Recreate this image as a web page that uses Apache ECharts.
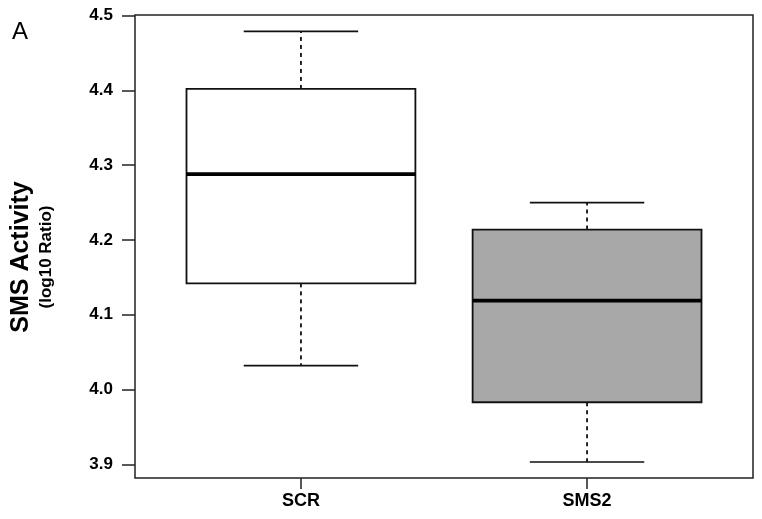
<!DOCTYPE html>
<html>
<head>
<meta charset="utf-8">
<script src="https://cdn.jsdelivr.net/npm/echarts@6/dist/echarts.min.js"></script>
<style>html,body{margin:0;padding:0;background:#fff}#c{width:762px;height:519px}</style>
</head>
<body>
<div id="c"></div>
<script>
var categories = ['SCR', 'SMS2'];
var whiskerLow = [4.032, 3.903];
var q1 = [4.142, 3.983];
var median = [4.288, 4.119];
var q3 = [4.402, 4.214];
var whiskerHigh = [4.479, 4.250];
var yTicks = [3.9, 4.0, 4.1, 4.2, 4.3, 4.4, 4.5];
var xTicks = [1, 2];

var boxFill = ['#ffffff', '#a8a8a8'];
var FONT = '"Liberation Sans", Arial, sans-serif';

var data = categories.map(function (c, i) {
  return [i + 1, whiskerLow[i], q1[i], median[i], q3[i], whiskerHigh[i]];
});

var chart = echarts.init(document.getElementById('c'), null, {renderer: 'canvas'});

function renderItem(params, api) {
  var x = api.value(0);
  var idx = params.dataIndex;
  var pLow = api.coord([x, api.value(1)]);
  var pQ1 = api.coord([x, api.value(2)]);
  var pMed = api.coord([x, api.value(3)]);
  var pQ3 = api.coord([x, api.value(4)]);
  var pHigh = api.coord([x, api.value(5)]);
  var bw = api.size([0.8, 0])[0];
  var cw = api.size([0.4, 0])[0];
  var cx = pMed[0];
  var lineStyle = {stroke: '#111', lineWidth: 1.6, fill: null};
  var dashStyle = {stroke: '#111', lineWidth: 1.8, lineDash: [4, 4], fill: null};
  return {
    type: 'group',
    children: [
      {type: 'line', shape: {x1: cx, y1: pQ3[1], x2: cx, y2: pHigh[1]}, style: dashStyle},
      {type: 'line', shape: {x1: cx, y1: pQ1[1], x2: cx, y2: pLow[1]}, style: dashStyle},
      {type: 'line', shape: {x1: cx - cw / 2, y1: pHigh[1], x2: cx + cw / 2, y2: pHigh[1]}, style: lineStyle},
      {type: 'line', shape: {x1: cx - cw / 2, y1: pLow[1], x2: cx + cw / 2, y2: pLow[1]}, style: lineStyle},
      {type: 'rect', shape: {x: cx - bw / 2, y: pQ3[1], width: bw, height: pQ1[1] - pQ3[1]},
        style: {fill: boxFill[idx], stroke: '#111', lineWidth: 1.8}},
      {type: 'line', shape: {x1: cx - bw / 2, y1: pMed[1], x2: cx + bw / 2, y2: pMed[1]},
        style: {stroke: '#000', lineWidth: 3.8}}
    ]
  };
}

chart.setOption({
  animation: false,
  backgroundColor: '#ffffff',
  grid: {left: 135, right: 9, top: 15, bottom: 41, show: true, borderColor: '#222', borderWidth: 1.5, backgroundColor: 'transparent'},
  xAxis: {
    type: 'value', min: 0.42, max: 2.58,
    axisLine: {show: false},
    splitLine: {show: false},
    axisTick: {show: true, length: 11, customValues: xTicks, lineStyle: {color: '#222', width: 1.5}},
    axisLabel: {customValues: xTicks, margin: 14, color: '#000', fontFamily: FONT, fontWeight: 'bold', fontSize: 18,
      formatter: function (v) { return categories[Math.round(v) - 1] || ''; }}
  },
  yAxis: {
    type: 'value', min: 3.8817, max: 4.5009,
    axisLine: {show: false},
    splitLine: {show: false},
    axisTick: {show: true, length: 13, customValues: yTicks, lineStyle: {color: '#222', width: 1.5}},
    axisLabel: {customValues: yTicks, margin: 22, color: '#000', fontFamily: FONT, fontWeight: 'bold', fontSize: 17,
      formatter: function (v) { return v.toFixed(1); }}
  },
  graphic: [
    {type: 'text', left: 12, top: 20, style: {text: 'A', fontFamily: FONT, fontSize: 24, fill: '#000'}},
    {type: 'text', x: 21, y: 257, rotation: Math.PI / 2,
      style: {text: 'SMS Activity', fontFamily: FONT, fontWeight: 'bold', fontSize: 25, fill: '#000', align: 'center', verticalAlign: 'middle'}},
    {type: 'text', x: 46, y: 257, rotation: Math.PI / 2,
      style: {text: '(log10 Ratio)', fontFamily: FONT, fontWeight: 'bold', fontSize: 17, fill: '#000', align: 'center', verticalAlign: 'middle'}}
  ],
  series: [{
    type: 'custom',
    renderItem: renderItem,
    encode: {x: 0, y: [1, 2, 3, 4, 5]},
    data: data
  }]
});
</script>
</body>
</html>
